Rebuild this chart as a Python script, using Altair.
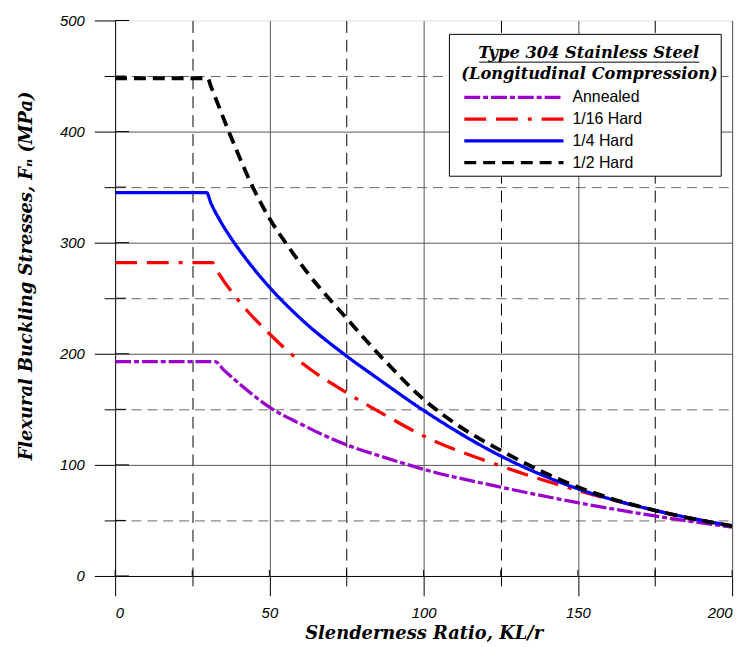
import altair as alt
import pandas as pd

# ---------------- data ----------------
series_names = ["Annealed", "1/16 Hard", "1/4 Hard", "1/2 Hard"]
series_colors = ["#9900CC", "#FF0000", "#0000FF", "#000000"]
series_dashes = [[16, 3, 5, 3], [22, 10, 22, 10, 4, 10], [1, 0], [12, 7]]
series_widths = [3.3, 3.3, 3.3, 3.8]

annealed_x = [0, 32.5, 35, 38, 42, 50, 60, 75, 87, 100, 125, 150, 175, 200]
annealed_y = [193, 193, 186, 178.5, 169, 152, 137, 118, 107, 96, 80, 66, 54, 44]

hard16_x = [0, 31.5, 33.2, 40, 50, 60, 75, 88, 100, 125, 150, 175, 200]
hard16_y = [282, 282, 274, 248, 218, 193, 165, 144, 126, 99, 77, 59, 45]

hard14_x = [0, 29.7, 31, 34, 37.6, 42, 50, 60, 75, 85, 100, 125, 150, 175, 200]
hard14_y = [345, 345, 336, 320, 304, 287, 260, 232, 198, 178, 149, 108, 78.5, 59, 45]

hard12_x = [0, 30, 31, 33, 36.7, 40, 43.6, 50, 56, 62.6, 75, 87, 100, 112, 125, 150, 175, 200]
hard12_y = [448, 448, 441, 427, 401, 379, 356, 322, 297, 272, 232, 195, 159, 134, 113, 80, 59, 45]

x_ticks = [0, 25, 50, 75, 100, 125, 150, 175, 200]
y_ticks = [0, 50, 100, 150, 200, 250, 300, 350, 400, 450, 500]
y_major = [0, 100, 200, 300, 400, 500]
y_minor = [50, 150, 250, 350, 450]

legend_title = ["\u200b\u00a0\u00a0\u00a0Type 304 Stainless Steel", "(Longitudinal Compression)"]
x_title = "Slenderness Ratio, KL/r"
y_title = "Flexural Buckling Stresses, F\u2099 (MPa)"

# ---------------- table ----------------
rows = []
for name, xs, ys in zip(series_names,
                        [annealed_x, hard16_x, hard14_x, hard12_x],
                        [annealed_y, hard16_y, hard14_y, hard12_y]):
    for xv, yv in zip(xs, ys):
        rows.append({"series": name, "klr": xv, "fn": yv})
df = pd.DataFrame(rows)

W, H = 622, 560

x_scale = alt.Scale(domain=[0, 200], nice=False, zero=False)
y_scale = alt.Scale(domain=[0, 500], nice=False)

x_axis = alt.Axis(
    values=x_ticks, title=x_title,
    labelExpr="datum.value % 50 === 0 ? datum.label : ''",
    labelFont="Liberation Sans", labelFontStyle="italic", labelFontSize=15,
    labelColor="black", labelPadding=10,
    tickColor="black",
    tickSize={"condition": {"test": "datum.value % 50 === 0", "value": 20}, "value": 10},
    domainColor="black", domainWidth=1,
    grid=True,
    gridColor={"condition": {"test": "datum.value % 50 === 0", "value": "#555555"}, "value": "#000000"},
    gridDash={"condition": {"test": "datum.value % 50 === 0", "value": []}, "value": [12, 7]},
    gridOpacity={"condition": {"test": "datum.value === 0", "value": 0}, "value": 1},
    gridWidth=1,
    titleFont="DejaVu Serif", titleFontStyle="italic", titleFontWeight="bold",
    titleFontSize=18, titleColor="black", titleBaseline="alphabetic", titleY=63,
)

y_axis = alt.Axis(
    values=y_ticks, title=y_title,
    labelExpr="datum.value % 100 === 0 ? datum.label : ''",
    labelFont="Liberation Sans", labelFontStyle="italic", labelFontSize=15,
    labelColor="black", labelPadding=10,
    tickColor="black",
    tickSize={"condition": {"test": "datum.value % 100 === 0", "value": 21}, "value": 11},
    domainColor="black", domainWidth=1,
    grid=True,
    gridColor={"condition": {"test": "datum.value % 100 === 0", "value": "#555555"}, "value": "#666666"},
    gridDash={"condition": {"test": "datum.value % 100 === 0", "value": []}, "value": [10, 6]},
    gridOpacity={"condition": {"test": "datum.value === 0 || datum.value === 500", "value": 0}, "value": 1},
    gridWidth=1,
    titleFont="DejaVu Serif", titleFontStyle="italic", titleFontWeight="bold",
    titleFontSize=18, titleColor="black", titleAngle=270, titleAlign="center",
    titleBaseline="alphabetic", titleX=-84, titleY=257,
)

legend = alt.Legend(
    title=legend_title, orient="none", legendX=340, legendY=16,
    direction="vertical",
    symbolType="M-1,0H19", symbolSize=100, symbolStrokeWidth=3.3,
    labelFont="Liberation Sans", labelFontSize=16, labelColor="black",
    labelOffset=96, labelLimit=0,
    titleFont="DejaVu Serif", titleFontStyle="italic", titleFontWeight="bold",
    titleFontSize=16.4, titleColor="black", titleAnchor="start", titleAlign="left",
    titleLineHeight=21, titleLimit=0, titlePadding=7,
    padding=9, rowPadding=6, cornerRadius=0,
)

color_enc = alt.Color("series:N", scale=alt.Scale(domain=series_names, range=series_colors), legend=legend)
dash_enc = alt.StrokeDash("series:N", scale=alt.Scale(domain=series_names, range=series_dashes), legend=legend)

base = alt.Chart(df)

layers = []
for name, sw in zip(series_names, series_widths):
    layers.append(
        base.transform_filter(alt.datum.series == name)
        .mark_line(strokeWidth=sw, interpolate="monotone", strokeCap="butt", clip=True)
        .encode(
            x=alt.X("klr:Q", scale=x_scale, axis=x_axis),
            y=alt.Y("fn:Q", scale=y_scale, axis=y_axis),
            color=color_enc,
            strokeDash=dash_enc,
        )
    )

# inner parts of the crossing ticks
ymaj_df = pd.DataFrame({"v": y_major})
ymin_df = pd.DataFrame({"v": y_minor})
xt_df = pd.DataFrame({"v": x_ticks})
inner_ymaj = alt.Chart(ymaj_df).mark_rule(color="black", strokeWidth=1).encode(
    y=alt.Y("v:Q", scale=y_scale, axis=y_axis), x=alt.value(0), x2=alt.value(14))
inner_ymin = alt.Chart(ymin_df).mark_rule(color="black", strokeWidth=1).encode(
    y=alt.Y("v:Q", scale=y_scale, axis=y_axis), x=alt.value(0), x2=alt.value(11))
inner_x = alt.Chart(xt_df).mark_rule(color="black", strokeWidth=1).encode(
    x=alt.X("v:Q", scale=x_scale, axis=x_axis), y=alt.value(H - 6), y2=alt.value(H))

# legend frame and underline of first legend title line
one = pd.DataFrame({"a": [0]})
legend_box = alt.Chart(one).mark_rect(fill="white", stroke="black", strokeWidth=1).encode(
    x=alt.value(337), x2=alt.value(611), y=alt.value(14), y2=alt.value(157))
underline = alt.Chart(one).mark_rule(color="black", strokeWidth=1).encode(
    x=alt.value(367), x2=alt.value(589), y=alt.value(42))

chart = alt.layer(inner_ymaj, inner_ymin, inner_x, *layers, legend_box, underline).properties(
    width=W, height=H,
    padding={"left": 108, "top": 10, "right": 16, "bottom": 68},
    autosize=alt.AutoSizeParams(type="none"),
).configure_view(stroke=None).configure(background="white")

chart.save("out.html", embed_options={"renderer": "svg", "actions": False})
